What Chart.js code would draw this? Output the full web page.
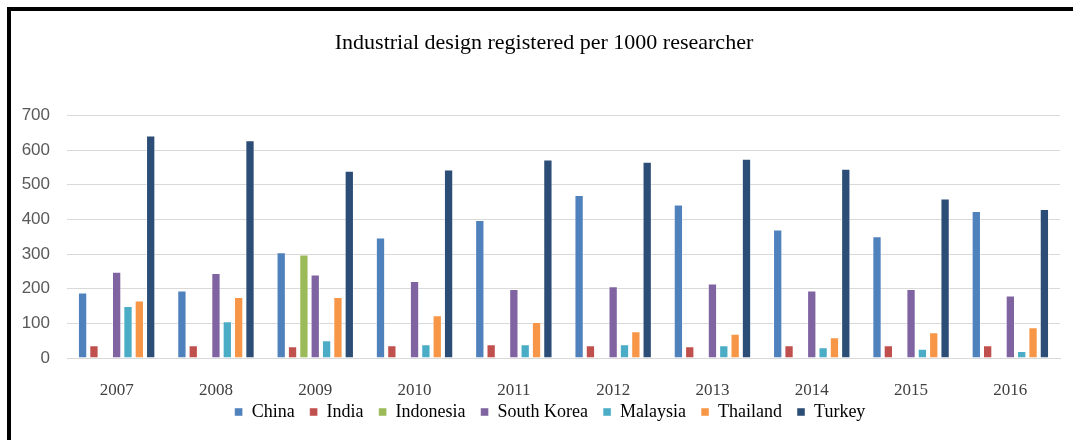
<!DOCTYPE html>
<html>
<head>
<meta charset="utf-8">
<script src="https://cdn.jsdelivr.net/npm/chart.js@4/dist/chart.umd.min.js"></script>
<style>
  html, body { margin: 0; padding: 0; background: #fff; }
  #wrap { position: relative; width: 1073px; height: 440px; overflow: hidden; background: #fff; }
  #c { position: absolute; left: 0; top: 0; }
  #frame { position: absolute; left: 7px; top: 7px; width: 1200px; height: 600px;
           border-left: 4px solid #000; border-top: 4px solid #000; pointer-events: none; }
</style>
</head>
<body>
<div id="wrap">
  <canvas id="c" width="1073" height="440"></canvas>
  <div id="frame"></div>
</div>
<script>
const titleText = "Industrial design registered per 1000 researcher";
const years = ["2007","2008","2009","2010","2011","2012","2013","2014","2015","2016"];
const china     = [189, 195, 305, 348, 398, 470, 443, 371, 351, 424];
const india     = [37, 37, 34, 37, 40, 37, 34, 37, 37, 37];
const indonesia = [null, null, 299, null, null, null, null, null, null, null];
const southKorea= [249, 245, 241, 222, 199, 207, 215, 195, 199, 180];
const malaysia  = [150, 106, 51, 40, 40, 40, 37, 31, 27, 20];
const thailand  = [166, 176, 176, 123, 104, 77, 70, 60, 74, 89];
const turkey    = [642, 628, 540, 544, 573, 566, 575, 546, 460, 430];
const yTicks    = [0, 100, 200, 300, 400, 500, 600, 700];

const seriesNames  = ["China","India","Indonesia","South Korea","Malaysia","Thailand","Turkey"];
const seriesValues = [china, india, indonesia, southKorea, malaysia, thailand, turkey];
const seriesColors = ["#4F81BD","#C0504D","#9BBB59","#8064A2","#4BACC6","#F79646","#2C4D75"];

const LEGEND_FONT = 18, LEGEND_PAD = 15;

const shiftBoxes = {
  id: 'shiftBoxes',
  afterLayout(chart) {
    const t = chart.titleBlock;
    if (t) { t.left += 14; t.right += 14; }
    const lg = chart.legend;
    if (lg) {
      lg.left += 20; lg.right += 20;
      const dy = 412 - (lg.top + LEGEND_PAD + LEGEND_FONT / 2);
      lg.top += dy; lg.bottom += dy;
    }
  }
};

new Chart(document.getElementById('c'), {
  type: 'bar',
  data: {
    labels: years,
    datasets: seriesNames.map((n, i) => ({
      label: n,
      data: seriesValues[i],
      backgroundColor: seriesColors[i],
      borderColor: 'rgba(255,255,255,0.45)',
      borderWidth: 1,
      categoryPercentage: 0.8,
      barPercentage: 0.82
    }))
  },
  options: {
    responsive: false,
    animation: false,
    layout: { padding: { left: 0, right: 13, top: 0, bottom: -6 } },
    plugins: {
      title: {
        display: true,
        text: titleText,
        color: '#000',
        font: { family: '"Liberation Serif", serif', size: 22, weight: 'normal' },
        padding: { top: 30, bottom: 59 }
      },
      legend: {
        position: 'bottom',
        labels: {
          boxWidth: 8, boxHeight: 8, padding: LEGEND_PAD,
          color: '#000',
          font: { family: '"Liberation Serif", serif', size: LEGEND_FONT }
        }
      },
      tooltip: { enabled: false }
    },
    scales: {
      x: {
        grid: { display: false, drawTicks: false },
        border: { display: true, color: '#d9d9d9' },
        ticks: { color: '#404040', padding: 22,
                 font: { family: '"Liberation Serif", serif', size: 17 } },
        afterFit(s) { s.height = 45; }
      },
      y: {
        min: 0, max: 700,
        afterBuildTicks(s) { s.ticks = yTicks.map(v => ({ value: v })); },
        grid: { color: '#d9d9d9', lineWidth: 1, drawTicks: false },
        border: { display: false },
        ticks: { color: '#595959', padding: 17,
                 font: { family: '"Liberation Sans", sans-serif', size: 17 } },
        afterFit(s) { s.width = 67; }
      }
    }
  },
  plugins: [shiftBoxes]
});
</script>
</body>
</html>
